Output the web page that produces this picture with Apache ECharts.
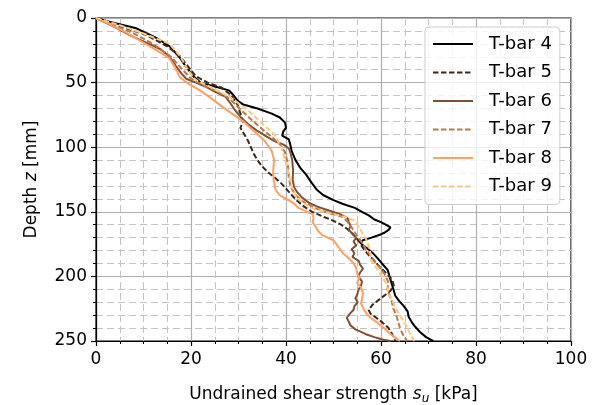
<!DOCTYPE html>
<html>
<head>
<meta charset="utf-8">
<script src="https://cdn.jsdelivr.net/npm/echarts@6/dist/echarts.min.js"></script>
<style>
  html, body { margin: 0; padding: 0; background: #fff; }
  #chart { width: 596px; height: 405px; }
</style>
</head>
<body>
<div id="chart"></div>
<script>
// T-bar penetration profiles: each point is [depth z (mm), undrained shear strength su (kPa)]
const tbar4 = [[0,0],[3,3],[8,8.5],[15,12.5],[22,15.5],[30,17.5],[38,19],[45,20.5],[50,22],[53,25],[56,28],[60,29],[64,29.8],[67,31],[70,34],[74,37],[77,38.7],[81,39.8],[85,40],[88,39.4],[91,39.2],[94,40.6],[98,40.9],[103,41.2],[110,42],[116,43],[121,44.2],[127,45.3],[133,46.5],[137,47.8],[141,50],[144,52],[147,54.5],[150,56],[153,57.5],[156,58.6],[158,60],[160,61],[162,62],[164,61.6],[166,60.8],[168,59.6],[170,58],[172,56.2],[174,55.7],[176,56.2],[178,57],[182,58.3],[186,59.3],[190,60.2],[195,61.4],[200,61.8],[205,62.2],[210,62.6],[215,63],[219,63.8],[223,64.8],[227,65.6],[231,65.8],[235,66.4],[239,67.2],[243,68.2],[247,69.5],[250,71]];
const tbar5 = [[0,0],[5,4],[13,10.5],[22,15],[29,17.5],[38,19.5],[45,21],[50,23.5],[54,26.5],[60,28.5],[67,29.8],[75,30.5],[80,31],[85,30.4],[90,31.2],[95,32],[100,32.6],[105,33.2],[110,34],[115,35],[120,36.4],[124,37.8],[128,39],[132,40],[137,41.2],[141,42.2],[146,43.8],[150,45.5],[154,48],[157,50],[160,51.6],[163,52.8],[167,54],[172,55.2],[178,56.2],[183,57.3],[188,58.6],[193,59.8],[198,61.3],[203,62.4],[207,62.7],[211,62],[214,61],[218,59.6],[222,58.2],[226,57.4],[229,57.8],[232,59],[236,60.4],[240,61.6],[245,62.4],[250,63]];
const tbar6 = [[0,0],[7,4],[14,7.5],[24,13.5],[30,15.5],[37,16.8],[43,18],[47,19],[50,21],[53,23],[57,25],[61,27.3],[66,28.3],[71,29.2],[77,30.5],[82,32],[87,33.8],[91,35.6],[95,37.4],[98,39.5],[101,40.6],[105,41],[110,41.3],[118,41.5],[125,41.4],[131,41.7],[135,42.4],[139,43.4],[143,44.8],[146,46.6],[149,49],[152,51.5],[155,53],[158,53.2],[161,53.6],[164,53.2],[167,54],[170,54.8],[173,54.2],[176,54.8],[179,53.8],[182,54.4],[185,54],[188,55.3],[191,55.6],[194,56.2],[197,55.6],[200,55.2],[204,56],[207,55.8],[210,55.3],[214,55],[217,54.6],[220,55.1],[223,54.4],[226,54.2],[229,53.4],[232,52.8],[235,53.2],[238,53.6],[241,54.6],[243,55.8],[245,57],[247,58.6],[249,60.5],[250,62]];
const tbar7 = [[0,0],[6,4],[12,8],[20,12],[30,15.8],[40,18.2],[47,20],[52,22.5],[56,25],[62,28],[70,30.2],[78,32.5],[86,35],[92,37],[98,38.8],[104,39.8],[110,40.2],[117,40.5],[124,40.6],[131,41],[137,42],[142,43.5],[147,46],[151,49],[154,52],[158,53],[162,53.8],[166,54.5],[170,55.3],[175,56.2],[180,57],[185,58],[190,59],[195,60.2],[200,61],[205,61.6],[210,61.3],[215,61.8],[220,62.3],[225,62.6],[230,63.2],[235,63.6],[240,64],[245,64.6],[250,65.5]];
const tbar8 = [[0,0],[5,3],[10,5.7],[18,9.5],[25,12.8],[31,15.4],[38,16.6],[46,17.7],[51,19.5],[56,21.9],[62,24.2],[69,26.7],[75,29],[80,31],[87,33.1],[95,35.5],[103,37],[110,37.5],[118,37.3],[126,37.4],[133,37.8],[137,38.6],[140,40],[143,41.5],[147,42.6],[150,44.5],[152,45.6],[155,45.8],[158,45.6],[162,46.3],[165,46.8],[168,47.6],[172,50],[175,50.6],[178,51.2],[182,52],[186,53.2],[190,54.3],[194,54.8],[198,55],[201,55.4],[205,55],[209,55.8],[213,56.2],[217,56],[221,55.8],[225,56.3],[229,57],[232,57.8],[236,59.3],[240,60.6],[244,61.8],[247,62.8],[250,64]];
const tbar9 = [[0,0],[5,4.5],[12,10],[20,15.5],[30,17.8],[40,19.3],[48,21],[55,25],[62,28.5],[70,31.5],[80,34.5],[90,37.5],[100,39],[110,39.8],[118,40.4],[130,41.2],[139,42.2],[144,44],[148,46],[151,49],[154,52.5],[157,54.5],[161,55.2],[166,56],[172,57],[180,57.7],[188,58],[196,59.5],[205,61],[211,61.5],[216,62],[221,62.7],[226,63.3],[234,64.6],[240,65.6],[245,66.2],[250,67]];

const seriesNames = ['T-bar 4', 'T-bar 5', 'T-bar 6', 'T-bar 7', 'T-bar 8', 'T-bar 9'];
const profiles = [tbar4, tbar5, tbar6, tbar7, tbar8, tbar9];
// copper colormap steps, alternating solid and dashed
const colors = ['#000000', '#402819', '#805033', '#bf784c', '#ffa065', '#ffc77f'];
const dashed = [false, true, false, true, false, true];

const font = 'DejaVu Sans';

const series = profiles.map((p, i) => ({
  name: seriesNames[i],
  type: 'line',
  data: p.map(d => [d[1], d[0]]),
  symbol: 'none',
  showSymbol: false,
  lineStyle: {
    color: colors[i],
    width: 2,
    type: dashed[i] ? [5.5, 2.5] : 'solid'
  },
  itemStyle: { color: colors[i] },
  emphasis: { disabled: true }
}));

const chart = echarts.init(document.getElementById('chart'), null, { renderer: 'canvas' });
chart.setOption({
  animation: false,
  backgroundColor: '#ffffff',
  grid: {
    left: 96, right: 25, top: 18, bottom: 64,
    outerBoundsMode: 'none', containLabel: false,
    show: true, borderColor: '#000', borderWidth: 1.2, backgroundColor: 'transparent'
  },
  legend: {
    data: seriesNames,
    orient: 'vertical',
    left: 425, top: 27,
    padding: [8, 8, 9, 7],
    itemWidth: 40, itemHeight: 14, itemGap: 10.5,
    backgroundColor: 'rgba(255,255,255,0.8)',
    borderColor: '#cccccc', borderWidth: 1, borderRadius: 4,
    itemStyle: { opacity: 0 },
    textStyle: { fontFamily: font, fontSize: 18, color: '#000', padding: [0, 0, 0, 11] }
  },
  xAxis: {
    type: 'value', min: 0, max: 100, interval: 20,
    name: 'Undrained shear strength {i|s}{sub|u} [kPa]',
    nameLocation: 'middle', nameGap: 44,
    nameTextStyle: {
      fontFamily: font, fontSize: 17, color: '#000',
      rich: {
        i: { fontFamily: font, fontSize: 17, fontStyle: 'italic', color: '#000' },
        sub: { fontFamily: font, fontSize: 12, fontStyle: 'italic', color: '#000', padding: [8, 0, 0, 0] }
      }
    },
    axisLine: { onZero: false, lineStyle: { color: '#000', width: 1.2 } },
    axisTick: { show: true, length: 5, lineStyle: { color: '#000', width: 1.2 } },
    minorTick: { show: true, splitNumber: 4, length: 3, lineStyle: { color: '#000', width: 1 } },
    axisLabel: { fontFamily: font, fontSize: 17, color: '#000', margin: 10 },
    splitLine: { show: true, lineStyle: { color: '#b0b0b0', width: 1.2 } },
    minorSplitLine: { show: true, lineStyle: { color: '#c4c4c4', width: 1, type: [7, 4] } }
  },
  yAxis: {
    type: 'value', min: 0, max: 250, interval: 50, inverse: true,
    name: 'Depth {i|z} [mm]',
    nameLocation: 'middle', nameGap: 56, nameRotate: 90,
    nameTextStyle: {
      fontFamily: font, fontSize: 17, color: '#000',
      rich: { i: { fontFamily: font, fontSize: 17, fontStyle: 'italic', color: '#000' } }
    },
    axisLine: { onZero: false, lineStyle: { color: '#000', width: 1.2 } },
    axisTick: { show: true, length: 5, lineStyle: { color: '#000', width: 1.2 } },
    minorTick: { show: true, splitNumber: 5, length: 3, lineStyle: { color: '#000', width: 1 } },
    axisLabel: { fontFamily: font, fontSize: 17, color: '#000', margin: 9 },
    splitLine: { show: true, lineStyle: { color: '#b0b0b0', width: 1.2 } },
    minorSplitLine: { show: true, lineStyle: { color: '#c4c4c4', width: 1, type: [7, 4] } }
  },
  series: series
});
</script>
</body>
</html>
